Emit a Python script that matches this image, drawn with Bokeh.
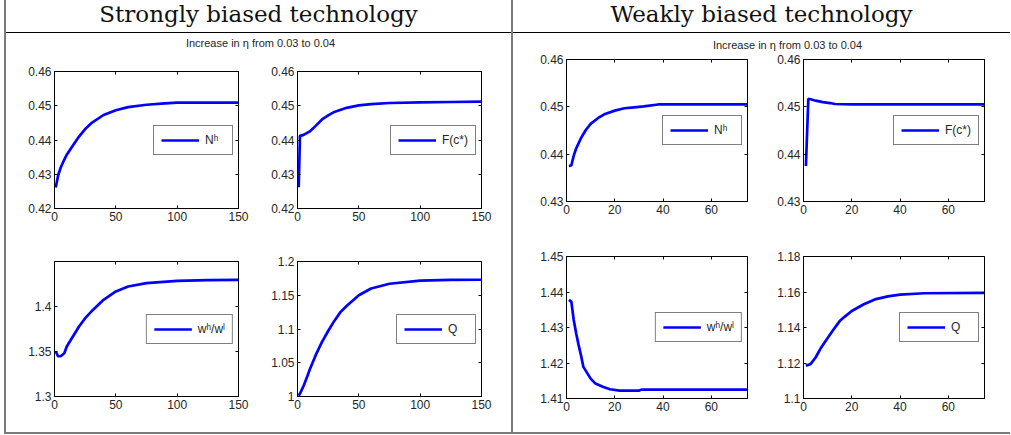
from bokeh.plotting import figure
from bokeh.models import Div, LinearAxis, FixedTicker, CustomJSTickFormatter, Range1d, CustomLabelingPolicy
from bokeh.layouts import row, column
from bokeh.embed import file_html
from bokeh.resources import INLINE

# ---------------- data ----------------
header_left = "Strongly biased technology"
header_right = "Weakly biased technology"
subtitle = "Increase in η from 0.03 to 0.04"

labels = ["Nʰ", "F(c*)", "wʰ/wˡ", "Q"]

# strongly biased (periods 0..150)
strong_nh_x = [1, 3, 5, 8, 10, 15, 20, 25, 30, 40, 50, 60, 75, 90, 100, 125, 150]
strong_nh_y = [0.4261, 0.4297, 0.4319, 0.4343, 0.4357, 0.4384, 0.4410, 0.4432, 0.4449,
               0.4473, 0.4487, 0.4496, 0.4503, 0.4507, 0.4509, 0.4509, 0.4509]

strong_f_x = [1, 2, 5, 10, 15, 20, 25, 30, 40, 50, 60, 75, 100, 125, 150]
strong_f_y = [0.4262, 0.4412, 0.4415, 0.4425, 0.4442, 0.4460, 0.4472, 0.4482, 0.4494,
              0.4501, 0.4505, 0.4508, 0.4510, 0.4511, 0.4512]

strong_w_x = [1, 3, 5, 8, 10, 15, 20, 25, 30, 40, 50, 60, 75, 100, 125, 150]
strong_w_y = [1.3500, 1.3447, 1.3447, 1.3480, 1.3556, 1.3667, 1.3778, 1.3870, 1.3944,
              1.4074, 1.4167, 1.4222, 1.4259, 1.4285, 1.4292, 1.4296]

strong_q_x = [1, 3, 5, 8, 10, 15, 20, 25, 30, 35, 40, 50, 60, 75, 100, 125, 150]
strong_q_y = [1.001, 1.008, 1.016, 1.030, 1.040, 1.062, 1.081, 1.097, 1.112, 1.125,
              1.134, 1.150, 1.160, 1.167, 1.1716, 1.1728, 1.173]

# weakly biased (periods 0..75)
weak_nh_x = [1, 2, 3, 4, 6, 8, 10, 13, 16, 20, 24, 28, 32, 38, 50, 75]
weak_nh_y = [0.4375, 0.4376, 0.4397, 0.4412, 0.4434, 0.4451, 0.4464, 0.4476, 0.4485,
             0.4492, 0.4497, 0.4499, 0.4501, 0.4505, 0.4505, 0.4505]

weak_f_x = [1, 2, 3, 5, 8, 11, 13, 20, 40, 75]
weak_f_y = [0.4375, 0.4517, 0.4516, 0.4513, 0.4510, 0.4508, 0.4506, 0.4505, 0.4505, 0.4505]

weak_w_x = [1, 2, 3, 4, 5, 6, 7, 10, 12, 15, 18, 22, 30, 31, 40, 75]
weak_w_y = [1.4378, 1.4373, 1.4321, 1.4284, 1.4251, 1.4222, 1.4189, 1.4156, 1.4142,
            1.4133, 1.4126, 1.4122, 1.4122, 1.4125, 1.4125, 1.4125]

weak_q_x = [1, 3, 5, 7, 10, 12, 15, 17, 20, 25, 30, 35, 40, 50, 75]
weak_q_y = [1.1184, 1.1195, 1.1231, 1.1280, 1.1341, 1.1380, 1.1436, 1.1460, 1.1493,
            1.1531, 1.1560, 1.1575, 1.1585, 1.1593, 1.1595]

strong_xticks = [0, 50, 100, 150]
weak_xticks = [0, 20, 40, 60]
yticks_n_strong = [0.42, 0.43, 0.44, 0.45, 0.46]
yticks_w_strong = [1.3, 1.35, 1.4]
yticks_q_strong = [1.0, 1.05, 1.1, 1.15, 1.2]
yticks_n_weak = [0.43, 0.44, 0.45, 0.46]
yticks_w_weak = [1.41, 1.42, 1.43, 1.44, 1.45]
yticks_q_weak = [1.1, 1.12, 1.14, 1.16, 1.18]

# ---------------- styling ----------------
AX_FONT = "Liberation Sans"
TXT = "#262626"
GRAY = "#7a7a7a"
fmt_code = "return String(Math.round(tick*10000)/10000)"
no_labels = "for (const i of indices) { indices.unset(i) } return indices"


def mirror_axis(ticks):
    return LinearAxis(ticker=FixedTicker(ticks=ticks),
                      major_label_policy=CustomLabelingPolicy(code=no_labels),
                      major_label_text_font_size="0px",
                      major_tick_in=3, major_tick_out=0, minor_tick_line_color=None,
                      axis_line_color=None, major_label_standoff=0,
                      major_tick_line_color="black")


def panel(x, y, label, xr, yr, xticks, yticks, w, h, left, right, top, bottom):
    p = figure(width=w, height=h, output_backend="svg", toolbar_location=None,
               x_range=Range1d(xr[0], xr[1]), y_range=Range1d(yr[0], yr[1]),
               min_border_left=left, min_border_right=right,
               min_border_top=top, min_border_bottom=bottom,
               background_fill_color="white", border_fill_color="white")
    p.line(x, y, line_color="#0000ff", line_width=2.7, legend_label=label)
    p.grid.visible = False
    p.outline_line_color = "black"
    p.outline_line_width = 1
    p.xaxis.ticker = FixedTicker(ticks=xticks)
    p.yaxis.ticker = FixedTicker(ticks=yticks)
    for ax in [p.xaxis[0], p.yaxis[0]]:
        ax.formatter = CustomJSTickFormatter(code=fmt_code)
        ax.major_tick_in = 3
        ax.major_tick_out = 0
        ax.minor_tick_line_color = None
        ax.axis_line_color = "black"
        ax.major_tick_line_color = "black"
        ax.major_label_text_font = AX_FONT
        ax.major_label_text_font_size = "12px"
        ax.major_label_text_color = TXT
        ax.major_label_standoff = 3
    # mirrored ticks (MATLAB box style), without labels
    p.add_layout(mirror_axis(xticks), "above")
    p.add_layout(mirror_axis(yticks), "right")
    lg = p.legend[0]
    lg.location = "center_right"
    lg.margin = 5
    lg.padding = 7
    lg.spacing = 0
    lg.glyph_width = 38
    lg.glyph_height = 14
    lg.label_height = 14
    lg.label_standoff = 6
    lg.border_line_color = "black"
    lg.border_line_width = 1
    lg.label_text_font = AX_FONT
    lg.label_text_font_size = "12px"
    lg.label_text_color = TXT
    lg.background_fill_color = "white"
    lg.background_fill_alpha = 1
    return p


def header(text, w, h):
    return Div(text=f'<div style="width:{w}px;text-align:center;font-family:\'DejaVu Serif\';'
                    f'font-size:23px;line-height:{h}px;color:#111;position:relative;top:-2px;'
                    f'white-space:nowrap">{text}</div>', width=w, height=h, margin=0)


def subtitle_div(text, w, h, shift, pad):
    return Div(text=f'<div style="width:{w}px;box-sizing:border-box;padding-left:{pad}px;'
                    f'text-align:center;font-family:\'{AX_FONT}\';'
                    f'font-size:11px;line-height:{h}px;color:{TXT};position:relative;top:{shift}px;'
                    f'white-space:nowrap">{text}</div>', width=w, height=h, margin=0)


def bar(w, h, color):
    return Div(text="", width=w, height=h, margin=0, styles={"background-color": color})


LW, RW = 505, 497
HEAD_H = 32
BODY_H = 399
TOTAL_H = HEAD_H + 1 + BODY_H + 2

f1 = panel(strong_nh_x, strong_nh_y, labels[0], (0, 150), (0.42, 0.46), strong_xticks, yticks_n_strong,
           250, 186, 48, 18, 17, 32)
f2 = panel(strong_f_x, strong_f_y, labels[1], (0, 150), (0.42, 0.46), strong_xticks, yticks_n_strong,
           255, 186, 41, 30, 17, 32)
f3 = panel(strong_w_x, strong_w_y, labels[2], (0, 150), (1.3, 1.45), strong_xticks, yticks_w_strong,
           250, 192, 48, 18, 21, 36)
f4 = panel(strong_q_x, strong_q_y, labels[3], (0, 150), (1.0, 1.2), strong_xticks, yticks_q_strong,
           255, 192, 41, 30, 21, 36)

f5 = panel(weak_nh_x, weak_nh_y, labels[0], (0, 75), (0.43, 0.46), weak_xticks, yticks_n_weak,
           245, 185, 53, 11, 7, 36)
f6 = panel(weak_f_x, weak_f_y, labels[1], (0, 75), (0.43, 0.46), weak_xticks, yticks_n_weak,
           252, 185, 45, 26, 7, 36)
f7 = panel(weak_w_x, weak_w_y, labels[2], (0, 75), (1.41, 1.45), weak_xticks, yticks_w_weak,
           245, 195, 53, 11, 19, 34)
f8 = panel(weak_q_x, weak_q_y, labels[3], (0, 75), (1.1, 1.18), weak_xticks, yticks_q_weak,
           252, 195, 45, 26, 19, 34)

body_l = column(subtitle_div(subtitle, LW, 21, 0, 4), row(f1, f2, spacing=0), row(f3, f4, spacing=0), spacing=0)
body_r = column(subtitle_div(subtitle, RW, 19, 3, 52), row(f5, f6, spacing=0), row(f7, f8, spacing=0), spacing=0)

left_col = column(header(header_left, LW, HEAD_H), bar(LW, 1, "#000000"), body_l, bar(LW, 2, GRAY), spacing=0)
right_col = column(header(header_right, RW, HEAD_H), bar(RW, 1, "#000000"), body_r, bar(RW, 2, GRAY), spacing=0)

root = row(bar(4, TOTAL_H, "#ffffff"), bar(2, TOTAL_H, GRAY), left_col, bar(2, TOTAL_H, GRAY), right_col,
           spacing=0)

open("out.html", "w").write(file_html(root, INLINE))
